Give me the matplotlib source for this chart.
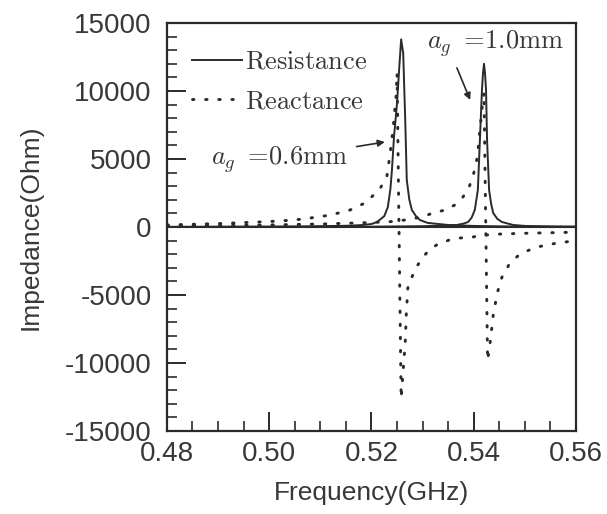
import matplotlib
matplotlib.use("Agg")
import matplotlib.pyplot as plt
from matplotlib.ticker import MultipleLocator

# resistance, a_g = 0.6 mm
freq_r06 = [0.480, 0.490, 0.500, 0.505, 0.510, 0.515, 0.518, 0.520, 0.5211, 0.5225,
            0.5232, 0.5237, 0.5240, 0.5244, 0.5250, 0.5254, 0.5258, 0.5262, 0.5266,
            0.5269, 0.5274, 0.5279, 0.5287, 0.5295, 0.531, 0.535, 0.540, 0.545,
            0.550, 0.560]
res_06 = [10, 20, 30, 40, 60, 90, 140, 220, 370, 800,
          1470, 2800, 4190, 6620, 9120, 11540, 13800, 12800, 7870,
          3460, 2000, 1250, 800, 510, 300, 150, 80, 50,
          30, 20]

# resistance, a_g = 1.0 mm
freq_r10 = [0.480, 0.500, 0.520, 0.530, 0.535, 0.5367, 0.5380, 0.5389, 0.5396,
            0.5402, 0.5408, 0.5412, 0.5416, 0.5418, 0.5420, 0.5422, 0.5424, 0.5426,
            0.5430, 0.5434, 0.5438, 0.5446, 0.5455, 0.5477, 0.550, 0.555, 0.560]
res_10 = [5, 10, 25, 60, 110, 150, 250, 370, 700,
          1250, 2720, 6400, 10070, 11300, 12000, 11300, 10070, 6400,
          2720, 1700, 1030, 600, 370, 150, 80, 40, 20]

# reactance, a_g = 0.6 mm
freq_x06 = [0.480, 0.490, 0.500, 0.505, 0.508, 0.512, 0.5158, 0.5187, 0.5215,
            0.5230, 0.5236, 0.5242, 0.5248, 0.5250, 0.5258, 0.5266, 0.5268, 0.5271,
            0.5279, 0.5287, 0.5299, 0.5313, 0.5330, 0.5352, 0.5373, 0.5397, 0.5422,
            0.545, 0.550, 0.555, 0.560]
react_06 = [150, 250, 400, 520, 660, 880, 1250, 1760, 2720,
            3680, 5290, 7130, 9560, 11320, -12600, -8460, -6470, -4490,
            -3680, -3010, -2280, -1690, -1250, -960, -810, -740, -590,
            -520, -460, -420, -380]

# reactance, a_g = 1.0 mm
freq_x10 = [0.480, 0.490, 0.500, 0.510, 0.520, 0.525, 0.5299, 0.5320, 0.5344,
            0.5363, 0.5379, 0.5391, 0.5399, 0.5404, 0.5408, 0.5410, 0.5414, 0.5418,
            0.5420, 0.5427, 0.5432, 0.5438, 0.5446, 0.5455, 0.5470, 0.5490, 0.5520,
            0.5560, 0.5600]
react_10 = [80, 110, 150, 220, 330, 420, 735, 1030, 1250,
            1620, 2210, 2940, 3820, 4560, 5440, 6400, 7870, 9400,
            9900, -9800, -8500, -6500, -4850, -3700, -2700, -2000, -1500,
            -1200, -1000]

x_ticks = [0.48, 0.50, 0.52, 0.54, 0.56]
y_ticks = [-15000, -10000, -5000, 0, 5000, 10000, 15000]

plt.rcParams["font.family"] = ["Liberation Sans", "DejaVu Sans"]
plt.rcParams["mathtext.fontset"] = "cm"

fig = plt.figure(figsize=(6.07, 5.14), dpi=100)
ax = fig.add_axes([0.275, 0.1615, 0.674, 0.7937])

ink = "#2a2a2a"
txt = "#383838"
dots = (0, (0.5, 4.0))

ax.plot(freq_r06, res_06, color=ink, lw=1.4, label=r"$\mathrm{Resistance}$")
ax.plot(freq_r10, res_10, color=ink, lw=1.4)
ax.plot(freq_x06, react_06, color=ink, lw=2.1, linestyle=dots,
        dash_capstyle="round", label=r"$\mathrm{Reactance}$")
ax.plot(freq_x10, react_10, color=ink, lw=2.1, linestyle=dots,
        dash_capstyle="round")
ax.axhline(0, color=ink, lw=1.5)

ax.set_xlim(0.48, 0.56)
ax.set_ylim(-15000, 15000)
ax.set_xticks(x_ticks)
ax.set_yticks(y_ticks)
ax.set_xticklabels([f"{t:.2f}" for t in x_ticks])
ax.set_yticklabels([f"{t:d}" for t in y_ticks])
ax.xaxis.set_minor_locator(MultipleLocator(0.005))
ax.yaxis.set_minor_locator(MultipleLocator(1000))
ax.tick_params(which="both", direction="in", top=False, right=False,
               colors=ink, labelsize=20, labelcolor=txt)
ax.tick_params(which="major", length=14, width=1.4)
ax.tick_params(axis="y", which="major", pad=11)
ax.tick_params(axis="x", which="major", pad=7)
ax.tick_params(which="minor", length=7, width=1.2)
for s in ax.spines.values():
    s.set_color(ink)
    s.set_linewidth(1.6)

ax.set_xlabel("Frequency(GHz)", fontsize=19, color=txt, labelpad=10)
ax.set_ylabel("Impedance(Ohm)", fontsize=19, color=txt, labelpad=16)

ax.legend(loc="upper left", bbox_to_anchor=(0.035, 0.96), frameon=False,
          fontsize=19, handlelength=1.9, handletextpad=0.12, labelspacing=0.6,
          borderaxespad=0, labelcolor=txt)

ax.annotate(r"$a_g$ $=\!0.6\mathrm{mm}$", xy=(0.5226, 6250), xytext=(0.5021, 5000),
            fontsize=19, color=txt, ha="center", va="center",
            arrowprops=dict(arrowstyle="-|>", color=ink, lw=1.2,
                            shrinkA=4, shrinkB=0, mutation_scale=10))
ax.text(0.5442, 13500, r"$a_g$ $=\!1.0\mathrm{mm}$", fontsize=19, color=txt,
        ha="center", va="center")
ax.annotate("", xy=(0.5393, 9340), xytext=(0.5367, 11700),
            arrowprops=dict(arrowstyle="-|>", color=ink, lw=1.2,
                            shrinkA=0, shrinkB=0, mutation_scale=10))

fig.savefig("out.png", dpi=100)
